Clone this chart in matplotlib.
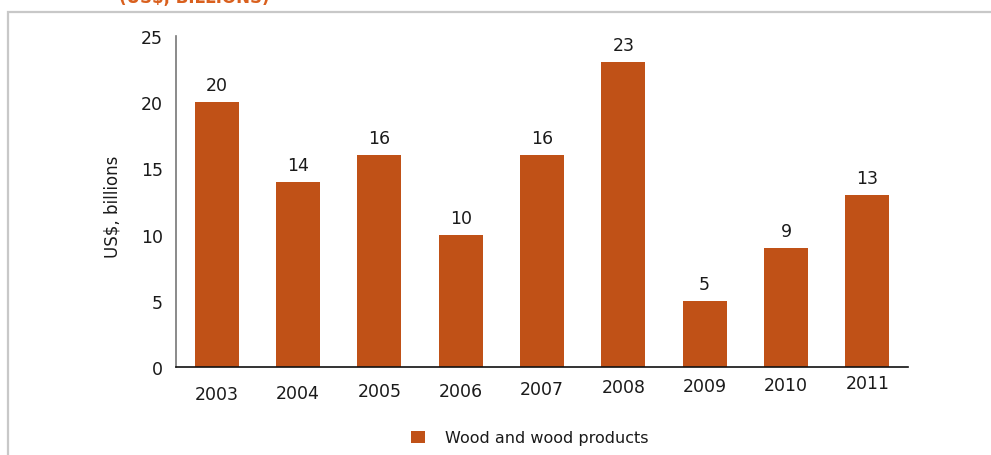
import matplotlib
matplotlib.use("Agg")
import matplotlib.pyplot as plt
from matplotlib.patches import Rectangle, Patch

years = ["2003", "2004", "2005", "2006", "2007", "2008", "2009", "2010", "2011"]
values = [20, 14, 16, 10, 16, 23, 5, 9, 13]
series_name = "Wood and wood products"
y_ticks = [0, 5, 10, 15, 20, 25]

bar_color = "#C05117"
text_color = "#1a1a1a"
# the year labels in the original drift upwards a little from left to right
year_drop_px = [27, 26, 24, 24, 22, 20, 19, 18, 16]

W, H = 991, 456
fig = plt.figure(figsize=(W / 100, H / 100), dpi=100)
plt.rcParams['font.family'] = ['DejaVu Sans']

# light grey frame of the panel
frame = Rectangle((8 / W, -0.2), 1.2, 1.2 - 13 / H, transform=fig.transFigure,
                  fill=False, edgecolor="#c8c8c8", linewidth=1.6, clip_on=False)
fig.add_artist(frame)

# subtitle, cut off by the top edge like in the source crop
fig.text(194 / W, 1 - 2.5 / H, "(US$, BILLIONS)", ha="center", va="baseline",
         fontsize=12, fontweight="bold", color="#D9601E")

ax = fig.add_axes([176 / W, 1 - 368 / H, (908 - 176) / W, (368 - 37) / H])
x = list(range(len(years)))
ax.bar(x, values, width=0.54, color=bar_color)
ax.set_xlim(-0.5, len(years) - 0.5)
ax.set_ylim(0, 25)

ax.set_yticks(y_ticks)
ax.set_yticklabels([str(t) for t in y_ticks])
ax.tick_params(axis="y", length=0, pad=9.4, labelsize=12.5, labelcolor=text_color)
ax.set_xticks([])

for s in ["top", "right"]:
    ax.spines[s].set_visible(False)
ax.spines["left"].set_color("#777777")
ax.spines["left"].set_linewidth(1.2)
ax.spines["bottom"].set_color("#111111")
ax.spines["bottom"].set_linewidth(1.2)

for i, (yr, v) in enumerate(zip(years, values)):
    ax.annotate(str(v), xy=(i, v), xytext=(0, 17), textcoords="offset pixels",
                ha="center", va="center", fontsize=12.5, color=text_color)
    ax.annotate(yr, xy=(i, 0), xycoords=("data", "axes fraction"),
                xytext=(0, -year_drop_px[i]), textcoords="offset pixels",
                ha="center", va="center", fontsize=12.5, color=text_color,
                annotation_clip=False)

fig.text(113 / W, 1 - 207 / H, "US$, billions", rotation=90, ha="center",
         va="center", fontsize=12, color=text_color)

fig.legend(handles=[Patch(facecolor=bar_color, edgecolor="none", label=series_name)],
           loc="center", bbox_to_anchor=(530 / W, 1 - 439 / H), frameon=False,
           fontsize=11.5, handlelength=0.85, handleheight=0.85, handletextpad=1.3,
           labelcolor=text_color)

fig.savefig("out.png", dpi=100)
